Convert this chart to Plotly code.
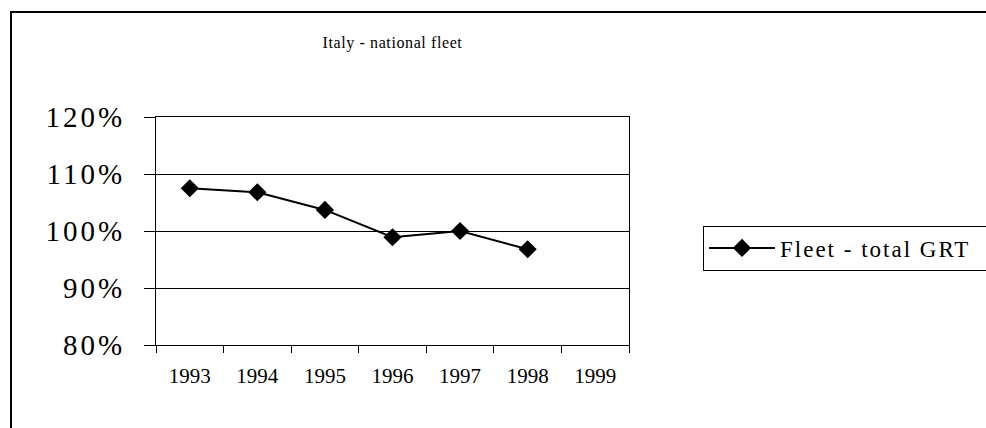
import plotly.graph_objects as go

years = ["1993", "1994", "1995", "1996", "1997", "1998", "1999"]
fleet_grt = [1.075, 1.068, 1.037, 0.989, 1.000, 0.968, None]
y_tick_values = [0.8, 0.9, 1.0, 1.1, 1.2]
y_tick_labels = ["80%", "90%", "100%", "110%", "120%"]
series_name = "Fleet - total GRT"
title_text = "Italy - national fleet"

W, H = 986, 428
L, R, T, B = 156, 986 - 629, 117, 428 - 345
pw, ph = W - L - R, H - T - B

def px(x):
    return (x - L) / pw

def py(y):
    return (H - B - y) / ph

def spaced(s, sp):
    return f'<span style="letter-spacing:{sp}px">{s}</span>'

serif = "Liberation Serif, Times New Roman, serif"

fig = go.Figure()
fig.add_trace(go.Scatter(
    x=years, y=fleet_grt, name=spaced(series_name, 2), mode="lines+markers",
    line=dict(color="black", width=2),
    marker=dict(symbol="diamond", size=14, color="black"),
    showlegend=True,
))

fig.update_layout(
    width=W, height=H,
    margin=dict(l=L, r=R, t=T, b=B, autoexpand=False),
    paper_bgcolor="white", plot_bgcolor="white",
    title=dict(text=spaced(title_text, 0.6), x=0.5, xref="paper", y=1 - 42 / H, yref="container",
               xanchor="center", yanchor="middle",
               font=dict(family=serif, size=16, color="black")),
    xaxis=dict(type="category", categoryorder="array", categoryarray=years,
               range=[-0.5, 6.5], tickson="boundaries", ticks="outside", ticklen=7,
               tickcolor="black", showgrid=False, showline=True, linecolor="black",
               linewidth=1, mirror=True, zeroline=False, ticklabelstandoff=12,
               tickfont=dict(family=serif, size=21, color="black")),
    yaxis=dict(range=[0.8, 1.2], tickmode="array", tickvals=y_tick_values,
               ticktext=[spaced(t, 3) for t in y_tick_labels],
               ticks="outside", ticklen=11, tickcolor="black",
               showgrid=True, gridcolor="black", gridwidth=1,
               showline=True, linecolor="black", linewidth=1, mirror=True,
               zeroline=False, ticklabelstandoff=13,
               tickfont=dict(family=serif, size=29, color="black")),
    legend=dict(x=px(703), y=py(248), xanchor="left", yanchor="middle",
                orientation="h", bordercolor="black", borderwidth=1, bgcolor="white",
                itemwidth=66, entrywidth=280,
                font=dict(family=serif, size=23, color="black")),
    shapes=[dict(type="path", xref="paper", yref="paper",
                 path=f"M {px(11)},{py(440)} L {px(11)},{py(12)} L {px(990)},{py(12)}",
                 line=dict(color="black", width=2))],
)

fig.write_html("out.html", config={"displayModeBar": False},
               post_script="document.body.style.margin='0';")
